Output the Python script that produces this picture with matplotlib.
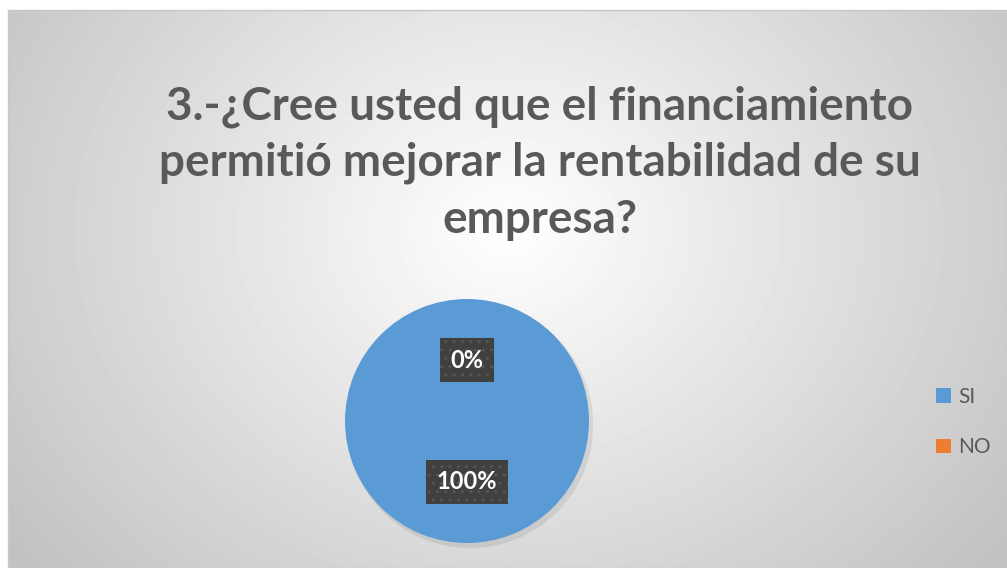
import numpy as np
import matplotlib.pyplot as plt

categories = ["SI", "NO"]
values = [100, 0]
colors = ["#5B9BD5", "#ED7D31"]
title = "3.-¿Cree usted que el financiamiento\npermitió mejorar la rentabilidad de su\nempresa?"

plt.rcParams["font.family"] = ["Lato", "DejaVu Sans"]

W, H = 1007, 568
fig = plt.figure(figsize=(W / 100, H / 100), dpi=100)
fig.patch.set_facecolor("white")

# radial gradient background of the chart area
bg = fig.add_axes([8 / W, 0, 1 - 8 / W, (H - 10) / H])
yy, xx = np.mgrid[0:558, 0:999]
d = np.sqrt(((xx - 500) / 620) ** 2 + ((yy - 220) / 520) ** 2)
g = np.clip(1.0 - 0.24 * d, 0.76, 1.0)
bg.imshow(g, cmap="gray", vmin=0, vmax=1, aspect="auto", interpolation="bilinear")
bg.set_xticks([])
bg.set_yticks([])
for s in bg.spines.values():
    s.set_color("#c8c8c8")
    s.set_linewidth(1)

fig.text(540 / W, 1 - 163 / H, title, ha="center", va="center",
         fontsize=33, fontweight="bold", color="#595959", linespacing=1.42)

cx, cy, r = 467, 421, 122
# faint shadow behind the pie
sh = fig.add_axes([(cx - r + 3) / W, (H - cy - r - 4) / H, 2 * r / W, 2 * r / H])
sh.pie([1], colors=["#000000"], radius=1.01, wedgeprops=dict(linewidth=0, alpha=0.08))
sh.set_xlim(-1, 1)
sh.set_ylim(-1, 1)
sh.set_aspect("equal")

ax = fig.add_axes([(cx - r) / W, (H - cy - r) / H, 2 * r / W, 2 * r / H])
wedges, texts, autotexts = ax.pie(
    values, colors=colors, startangle=90, counterclock=False,
    autopct="%1.0f%%", pctdistance=0.5, radius=1,
    wedgeprops=dict(linewidth=0))
for t in autotexts:
    t.set_color("white")
    t.set_fontweight("bold")
    t.set_fontsize(17)
    t.set_bbox(dict(boxstyle="square,pad=0.45", fc="#404040", ec="#555555",
                    lw=0, hatch=".."))
ax.set_xlim(-1, 1)
ax.set_ylim(-1, 1)
ax.set_aspect("equal")

leg = fig.legend(wedges, categories, loc="center left",
                 bbox_to_anchor=(930 / W, 1 - 422 / H), frameon=False,
                 handlelength=0.7, handleheight=0.7, handletextpad=0.35,
                 labelspacing=1.45, fontsize=15, borderaxespad=0, borderpad=0.3)
for t in leg.get_texts():
    t.set_color("#595959")

fig.savefig("out.png", dpi=100)
